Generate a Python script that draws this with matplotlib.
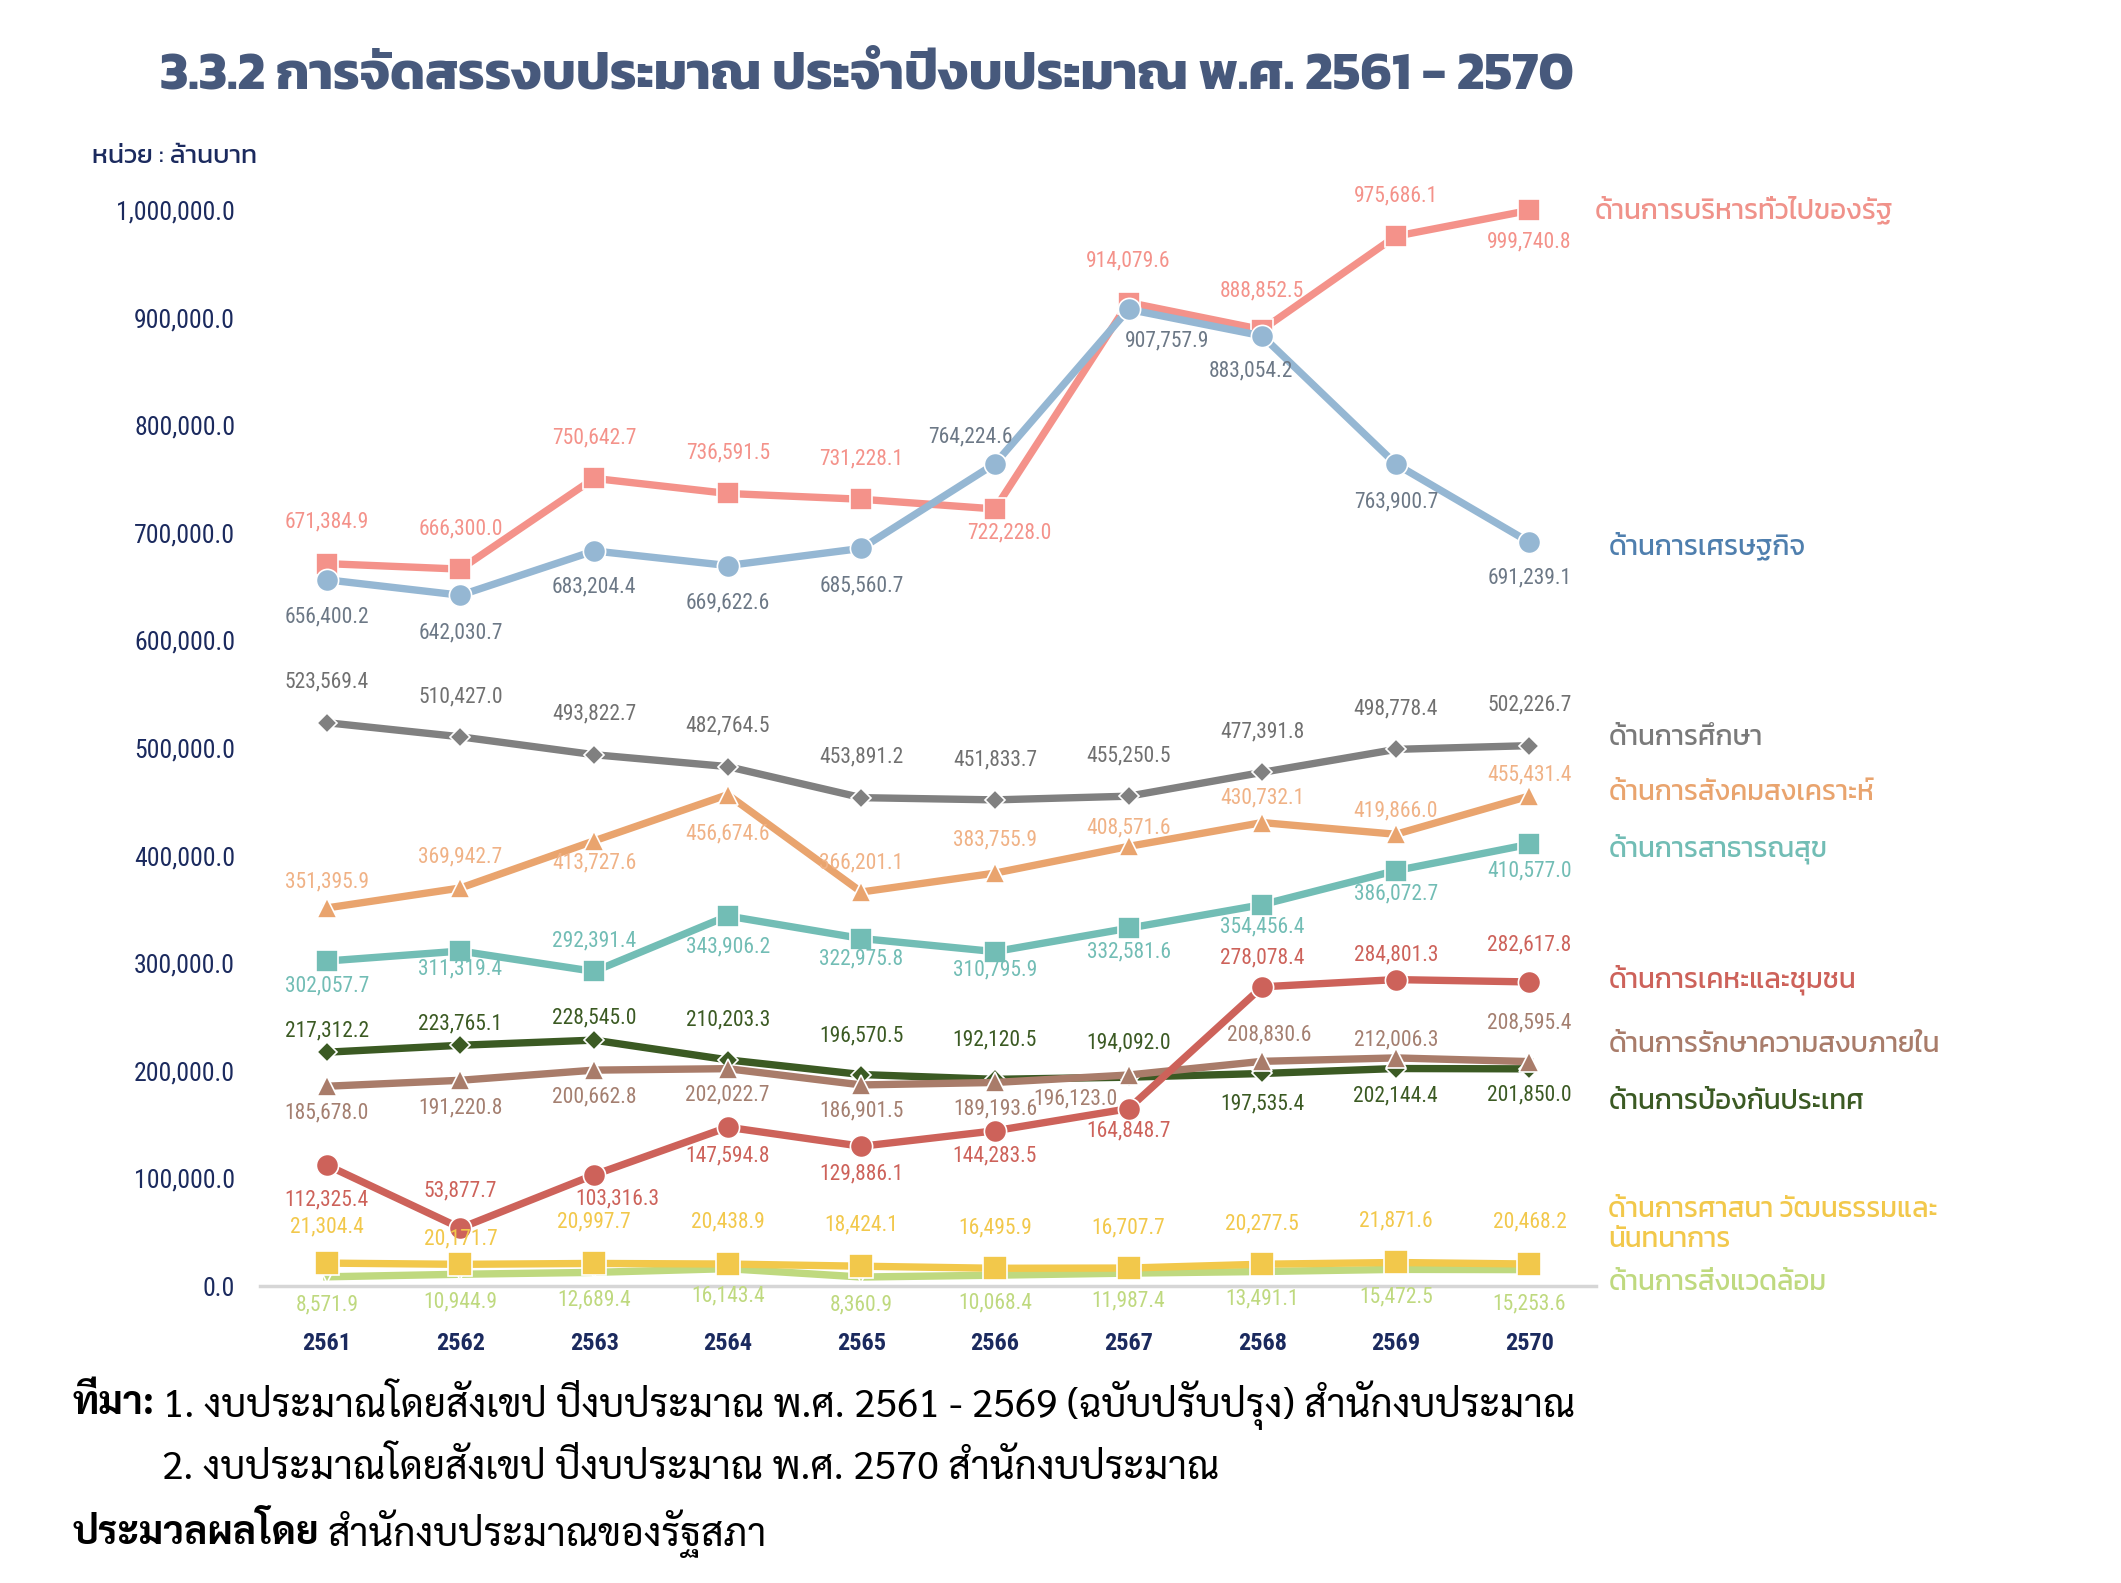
import matplotlib
matplotlib.use('Agg')
import matplotlib.pyplot as plt
from matplotlib import font_manager

installed = {f.name for f in font_manager.fontManager.ttflist}


def pick(*cands):
    for c in cands:
        if c in installed:
            return c
    return 'DejaVu Sans'


THAI = pick('Kanit', 'Prompt', 'Noto Sans Thai')
LOOPED = pick('Sarabun', 'Noto Sans Thai Looped', THAI)
NARROW = pick('Roboto Condensed', 'Liberation Sans Narrow', 'Open Sans Condensed', THAI)
plt.rcParams['font.family'] = [THAI, 'DejaVu Sans']

years = ['2561', '2562', '2563', '2564', '2565', '2566', '2567', '2568', '2569', '2570']

admin = [671384.9, 666300.0, 750642.7, 736591.5, 731228.1, 722228.0, 914079.6, 888852.5, 975686.1, 999740.8]
economy = [656400.2, 642030.7, 683204.4, 669622.6, 685560.7, 764224.6, 907757.9, 883054.2, 763900.7, 691239.1]
education = [523569.4, 510427.0, 493822.7, 482764.5, 453891.2, 451833.7, 455250.5, 477391.8, 498778.4, 502226.7]
social = [351395.9, 369942.7, 413727.6, 456674.6, 366201.1, 383755.9, 408571.6, 430732.1, 419866.0, 455431.4]
health = [302057.7, 311319.4, 292391.4, 343906.2, 322975.8, 310795.9, 332581.6, 354456.4, 386072.7, 410577.0]
housing = [112325.4, 53877.7, 103316.3, 147594.8, 129886.1, 144283.5, 164848.7, 278078.4, 284801.3, 282617.8]
security = [185678.0, 191220.8, 200662.8, 202022.7, 186901.5, 189193.6, 196123.0, 208830.6, 212006.3, 208595.4]
defense = [217312.2, 223765.1, 228545.0, 210203.3, 196570.5, 192120.5, 194092.0, 197535.4, 202144.4, 201850.0]
religion = [21304.4, 20171.7, 20997.7, 20438.9, 18424.1, 16495.9, 16707.7, 20277.5, 21871.6, 20468.2]
environment = [8571.9, 10944.9, 12689.4, 16143.4, 8360.9, 10068.4, 11987.4, 13491.1, 15472.5, 15253.6]

names = {
    'admin': 'ด้านการบริหารทั่วไปของรัฐ',
    'economy': 'ด้านการเศรษฐกิจ',
    'education': 'ด้านการศึกษา',
    'social': 'ด้านการสังคมสงเคราะห์',
    'health': 'ด้านการสาธารณสุข',
    'housing': 'ด้านการเคหะและชุมชน',
    'security': 'ด้านการรักษาความสงบภายใน',
    'defense': 'ด้านการป้องกันประเทศ',
    'religion': 'ด้านการศาสนา วัฒนธรรมและ\nนันทนาการ',
    'environment': 'ด้านการสิ่งแวดล้อม',
}

# key, values, line colour, value label colour, name colour, marker, marker size
styles = [
    ('environment', environment, '#bfd97f', '#bfd97f', '#bfd97f', 'v', 8),
    ('religion', religion, '#f2c84b', '#f2c84b', '#f2c84b', 's', 17.5),
    ('defense', defense, '#3b5a23', '#3b5a23', '#3b5a23', 'D', 10.5),
    ('security', security, '#a97c6a', '#a47f70', '#a97c6a', '^', 14.5),
    ('housing', housing, '#cd625a', '#cd625a', '#cd625a', 'o', 16),
    ('health', health, '#72bdb5', '#72bdb5', '#72bdb5', 's', 16.5),
    ('social', social, '#e9a46e', '#f0b286', '#e9a46e', '^', 14.5),
    ('education', education, '#808080', '#707070', '#7a7a7a', 'D', 10.5),
    ('admin', admin, '#f4928a', '#f4928a', '#f0928a', 's', 16.5),
    ('economy', economy, '#95b7d3', '#6c7886', '#4f7fae', 'o', 16),
]

# value label offsets (points, + is up) and a few sideways nudges
label_dy = {
    'admin': [30, 29, 29, 29, 29, -17, 30, 28, 29, -23],
    'economy': [-27, -27, -26, -27, -27, 19, -23, -25, -27, -26],
    'education': [29] * 10,
    'social': [19, 22, -16, -28, 21, 24, 13, 18, 17, 15],
    'health': [-18, -13, 22, -22, -15, -13, -17, -16, -17, -19],
    'housing': [-25, 27, -17, -21, -20, -18, -16, 21, 18, 27],
    'security': [-19, -20, -19, -19, -19, -19, -17, 19, 13, 28],
    'defense': [15, 15, 16, 29, 28, 28, 25, -22, -20, -19],
    'religion': [26, 18, 30, 30, 30, 29, 29, 29, 30, 30],
    'environment': [-20, -20, -20, -20, -20, -20, -20, -20, -20, -25],
}
label_dx = {('admin', 5): 10, ('economy', 5): -18, ('economy', 6): 28, ('economy', 7): -8,
            ('housing', 2): 17, ('security', 6): -38, ('security', 7): 5}

# position of the series names on the right (x past last year, y in data units)
name_y = {'admin': 1000000, 'economy': 688000, 'education': 509000, 'social': 458000,
          'health': 406000, 'housing': 285000, 'security': 224000, 'defense': 171000,
          'religion': 57000, 'environment': 2500}
name_dx = {'admin': 0.49}

fig = plt.figure(figsize=(21.21, 15.83), dpi=100)
ax = fig.add_axes([0.1226, 0.1876, 0.63, 0.6797])

x = list(range(len(years)))
for key, vals, lc, tc, nc, mk, ms in styles:
    ax.plot(x, vals, color=lc, lw=5.3, marker=mk, markersize=ms,
            markeredgecolor='white', markeredgewidth=1.2, clip_on=False, zorder=3)
    for i, v in enumerate(vals):
        ax.annotate(f'{v:,.1f}', (i, v), xytext=(label_dx.get((key, i), 0), label_dy[key][i]),
                    textcoords='offset points', ha='center', va='center',
                    fontsize=15.5, color=tc, zorder=5, annotation_clip=False,
                    family=[NARROW, 'DejaVu Sans'])
    ax.text(len(years) - 1 + name_dx.get(key, 0.59), name_y[key], names[key], color=nc,
            fontsize=20, ha='left', va='center', linespacing=1.2, fontweight='normal')

ax.set_xlim(-0.5, len(years) - 0.5)
ax.set_ylim(0, 1000000)
ax.set_yticks(range(0, 1000001, 100000))
ax.set_yticklabels([f'{t:,.1f}' for t in range(0, 1000001, 100000)], family=[NARROW, 'DejaVu Sans'])
ax.set_xticks(x)
ax.set_xticklabels(years, fontweight='bold', family=[NARROW, 'DejaVu Sans'])
ax.tick_params(axis='y', length=0, pad=18, labelsize=18.5, labelcolor='#1b2a5e')
ax.tick_params(axis='x', length=0, pad=33, labelsize=17.5, labelcolor='#1b2a5e')
for s in ('top', 'right', 'left'):
    ax.spines[s].set_visible(False)
ax.spines['bottom'].set_color('#d6d6d6')
ax.spines['bottom'].set_linewidth(2.5)
ax.spines['bottom'].set_zorder(1)

fig.text(0.0754, 0.952, '3.3.2 การจัดสรรงบประมาณ ประจำปีงบประมาณ พ.ศ. 2561 - 2570',
         fontsize=38, fontweight='bold', color='#47597c', va='center')
fig.text(0.0434, 0.9008, 'หน่วย : ล้านบาท', fontsize=19, color='#1b2a5e', va='center')

foot = dict(fontsize=28, va='center', family=[LOOPED, 'DejaVu Sans'], color='black')
t1 = fig.text(0.0344, 0.1131, 'ที่มา:', fontweight='bold', **foot)
ax.annotate('1. งบประมาณโดยสังเขป ปีงบประมาณ พ.ศ. 2561 - 2569 (ฉบับปรับปรุง) สำนักงบประมาณ',
            xy=(1, 0.5), xycoords=t1, xytext=(6, 0), textcoords='offset points',
            ha='left', annotation_clip=False, **foot)
fig.text(0.0765, 0.0720, '2. งบประมาณโดยสังเขป ปีงบประมาณ พ.ศ. 2570 สำนักงบประมาณ', **foot)
t3 = fig.text(0.0344, 0.0310, 'ประมวลผลโดย', fontweight='bold', **foot)
ax.annotate('สำนักงบประมาณของรัฐสภา', xy=(1, 0.5), xycoords=t3, xytext=(6, 0),
            textcoords='offset points', ha='left', annotation_clip=False, **foot)

fig.savefig('out.png', dpi=100)
